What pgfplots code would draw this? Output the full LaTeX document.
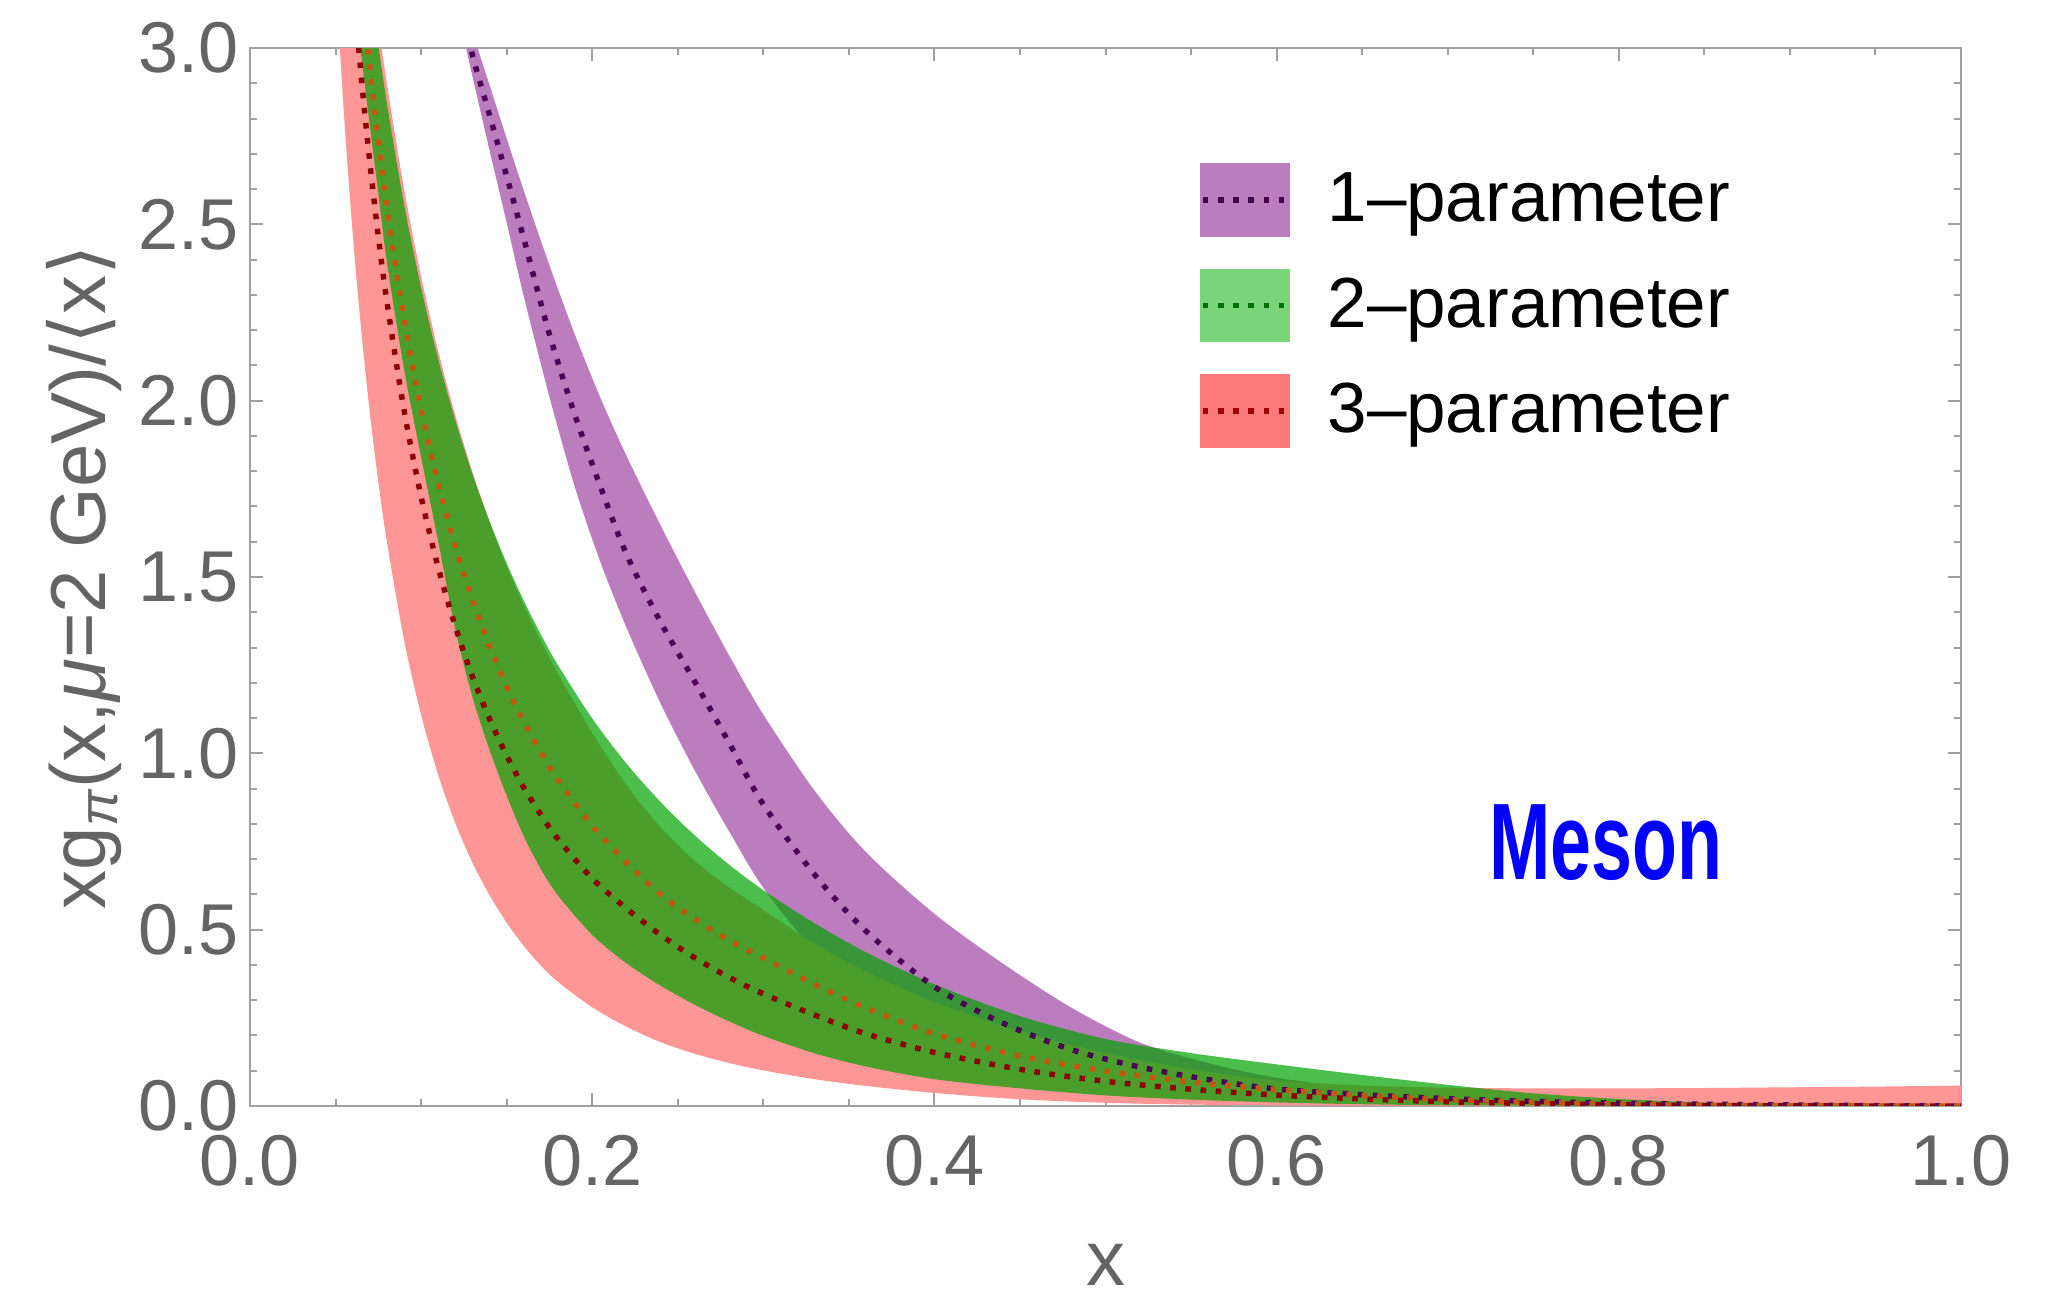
\documentclass[border=0pt]{standalone}
\usepackage{fontspec}
\setmainfont{Liberation Sans}
\newfontfamily\dejavu{DejaVu Sans}
\usepackage{graphicx}
\usepackage{pgfplots}
\usepackage{pgfplotstable}
\pgfplotsset{compat=1.18}
\usepgfplotslibrary{fillbetween}

\definecolor{bandpurple}{RGB}{188,125,190}
\definecolor{linepurple}{RGB}{75,0,85}
\definecolor{bandred}{RGB}{255,150,150}
\definecolor{linered}{RGB}{140,0,0}
\definecolor{bandgreen}{RGB}{0,162,0}
\definecolor{linegreen}{RGB}{192,88,16}
\definecolor{legpurple}{RGB}{186,125,190}
\definecolor{leggreen}{RGB}{122,212,122}
\definecolor{legred}{RGB}{250,122,122}
\definecolor{legpurpleline}{RGB}{70,0,80}
\definecolor{leggreenline}{RGB}{0,110,0}
\definecolor{legredline}{RGB}{160,0,0}
\definecolor{framegray}{RGB}{160,160,160}
\definecolor{textgray}{RGB}{100,100,100}
\definecolor{mesonblue}{RGB}{0,0,255}

\tikzset{dotline/.style={line width=1.35pt, dash pattern=on 1.4pt off 2.4pt}}

% 1-parameter fit: lower edge, central value, upper edge
\pgfplotstableread{
x     lo     mid    hi
0.120 3.15   3.20   3.195
0.125 3.03   3.09   3.12
0.130 2.92   2.98   3.045
0.140 2.71   2.81   2.895
0.150 2.505  2.637  2.744
0.160 2.296  2.46   2.596
0.175 2.011  2.188  2.384
0.190 1.753  1.958  2.186
0.205 1.540  1.754  2.006
0.220 1.357  1.565  1.844
0.240 1.141  1.372  1.646
0.260 0.951  1.203  1.458
0.280 0.779  1.030  1.278
0.300 0.619  0.855  1.110
0.330 0.440  0.656  0.894
0.360 0.325  0.496  0.720
0.400 0.215  0.338  0.545
0.440 0.144  0.235  0.404
0.480 0.094  0.160  0.279
0.520 0.062  0.1105 0.180
0.560 0.041  0.075  0.122
0.600 0.027  0.048  0.080
0.650 0.016  0.032  0.050
0.700 0.0095 0.021  0.031
0.750 0.006  0.013  0.020
0.800 0.003  0.008  0.012
0.850 0.002  0.005  0.007
0.900 0.001  0.003  0.004
0.950 0.0003 0.001  0.0015
1.000 0      0      0
}\onepar

% 2-parameter fit
\pgfplotstableread{
x     lo     mid    hi
0.060 3.17   3.469  3.641
0.065 2.98   3.189  3.405
0.070 2.78   2.947  3.196
0.075 2.588  2.735  3.010
0.080 2.393  2.548  2.844
0.090 2.09   2.232  2.558
0.100 1.84   1.976  2.320
0.110 1.60   1.765  2.118
0.120 1.352  1.587  1.944
0.130 1.16   1.435  1.792
0.140 1.010  1.303  1.658
0.150 0.880  1.189  1.539
0.160 0.765  1.090  1.433
0.170 0.672  1.003  1.337
0.180 0.597  0.925  1.250
0.200 0.485  0.795  1.099
0.220 0.405  0.690  0.971
0.240 0.341  0.600  0.862
0.260 0.287  0.530  0.767
0.280 0.240  0.470  0.6845
0.300 0.199  0.420  0.612
0.330 0.1495 0.345  0.518
0.360 0.112  0.278  0.436
0.400 0.076  0.205  0.345
0.450 0.050  0.142  0.255
0.500 0.030  0.099  0.190
0.550 0.018  0.068  0.150
0.600 0.010  0.046  0.118
0.650 0.005  0.030  0.088
0.700 0.002  0.018  0.060
0.750 0.001  0.0105 0.036
0.800 0      0.0054 0.020
0.850 0      0.0024 0.010
0.900 0      0.0008 0.004
0.950 0      0.0001 0.001
1.000 0      0      0
}\twopar

% 3-parameter fit
\pgfplotstableread{
x     lo     mid    hi
0.048 3.40   4.12   4.46
0.050 3.21   3.938  4.318
0.055 2.807  3.537  3.997
0.060 2.475  3.203  3.720
0.065 2.20   2.920  3.477
0.070 1.967  2.677  3.262
0.075 1.770  2.466  3.071
0.080 1.600  2.282  2.899
0.090 1.323  1.974  2.601
0.100 1.109  1.728  2.352
0.110 0.939  1.527  2.141
0.120 0.802  1.360  1.958
0.130 0.690  1.218  1.798
0.140 0.598  1.098  1.657
0.150 0.520  0.994  1.531
0.160 0.454  0.903  1.419
0.170 0.398  0.826  1.318
0.180 0.352  0.757  1.2255
0.200 0.280  0.645  1.058
0.220 0.225  0.560  0.910
0.240 0.181  0.485  0.790
0.260 0.148  0.420  0.695
0.280 0.122  0.365  0.620
0.300 0.101  0.318  0.556
0.330 0.076  0.258  0.460
0.360 0.057  0.205  0.381
0.400 0.037  0.152  0.295
0.450 0.019  0.104  0.212
0.500 0.009  0.070  0.150
0.550 0.004  0.0475 0.104
0.600 0.002  0.031  0.072
0.650 0.001  0.020  0.058
0.700 0      0.012  0.052
0.750 0      0.007  0.050
0.800 0      0.0034 0.050
0.850 0      0.0015 0.051
0.900 0      0.0005 0.053
0.950 0      0.0001 0.055
1.000 0      0      0.058
}\threepar

\begin{document}
\begin{tikzpicture}
\begin{axis}[
  scale only axis, width=427.75pt, height=264.5pt,
  xmin=0, xmax=1, ymin=0, ymax=3,
  xtick={0,0.2,0.4,0.6,0.8,1.0},
  ytick={0,0.5,1,1.5,2,2.5,3},
  minor x tick num=3, minor y tick num=4,
  major tick length=3.2pt, minor tick length=1.8pt,
  tick style={framegray, line width=0.5pt},
  axis line style={framegray, line width=0.6pt},
  tick label style={font=\fontsize{18pt}{20pt}\selectfont, text=textgray},
  /pgf/number format/.cd, fixed, fixed zerofill, precision=1, assume math mode=true, /pgfplots/.cd,
  xticklabel style={anchor=north, inner sep=0pt, yshift=-7pt},
  yticklabel style={anchor=east, inner sep=0pt, xshift=-2.75pt},
  xlabel={x},
  ylabel={xg\textsubscript{\itshape π}(x,\textit{μ}=2 GeV)/{\dejavu ⟨}x{\dejavu ⟩}},
  every axis x label/.style={at={(rel axis cs:0.5,0)}, anchor=center, yshift=-39.75pt,
    font=\fontsize{19.5pt}{22pt}\selectfont, text=textgray},
  every axis y label/.style={at={(rel axis cs:0,0.5)}, anchor=center, rotate=90, yshift=41.5pt,
    font=\fontsize{19.5pt}{22pt}\selectfont, text=textgray},
  legend style={draw=none, fill=none, at={(0.5552,0.8913)}, anchor=north west,
    inner sep=0pt, outer sep=0pt, row sep=8pt, column sep=9.5pt,
    font=\fontsize{17.75pt}{20pt}\selectfont, nodes={inner sep=0pt}},
  legend cell align=left,
]
% 1-parameter band
\addplot[name path=p1lo, draw=none, smooth, forget plot] table[x=x, y=lo] {\onepar};
\addplot[name path=p1hi, draw=none, smooth, forget plot] table[x=x, y=hi] {\onepar};
\addplot[fill=bandpurple, draw=none, forget plot] fill between[of=p1lo and p1hi];
% 3-parameter band
\addplot[name path=p3lo, draw=none, smooth, forget plot] table[x=x, y=lo] {\threepar};
\addplot[name path=p3hi, draw=none, smooth, forget plot] table[x=x, y=hi] {\threepar};
\addplot[fill=bandred, draw=none, forget plot] fill between[of=p3lo and p3hi];
% central values of the 1- and 3-parameter fits
\addplot[linepurple, dotline, smooth, forget plot] table[x=x, y=mid] {\onepar};
\addplot[linered, dotline, smooth, forget plot] table[x=x, y=mid] {\threepar};
% 2-parameter band, translucent on top
\addplot[name path=p2lo, draw=none, smooth, forget plot] table[x=x, y=lo] {\twopar};
\addplot[name path=p2hi, draw=none, smooth, forget plot] table[x=x, y=hi] {\twopar};
\addplot[fill=bandgreen, fill opacity=0.7, draw=none, forget plot] fill between[of=p2lo and p2hi];
\addplot[linegreen, dotline, smooth, forget plot] table[x=x, y=mid] {\twopar};

\addlegendimage{legend image code/.code={
  \fill[legpurple] (0pt,-9pt) rectangle (22pt,9pt);
  \draw[legpurpleline, dotline] (0.5pt,0pt) -- (21.5pt,0pt);}}
\addlegendentry{1–parameter}
\addlegendimage{legend image code/.code={
  \fill[leggreen] (0pt,-9pt) rectangle (22pt,9pt);
  \draw[leggreenline, dotline] (0.5pt,0pt) -- (21.5pt,0pt);}}
\addlegendentry{2–parameter}
\addlegendimage{legend image code/.code={
  \fill[legred] (0pt,-9pt) rectangle (22pt,9pt);
  \draw[legredline, dotline] (0.5pt,0pt) -- (21.5pt,0pt);}}
\addlegendentry{3–parameter}

\node[text=mesonblue, font=\fontsize{27.2pt}{30pt}\selectfont\bfseries, inner sep=0pt]
  at (rel axis cs:0.7925,0.2486) {\scalebox{0.676}[1]{Meson}};
\end{axis}
\pgfresetboundingbox
\path[use as bounding box] (-62.5pt,-47.75pt) rectangle (449.75pt,276.5pt);
\end{tikzpicture}
\end{document}
